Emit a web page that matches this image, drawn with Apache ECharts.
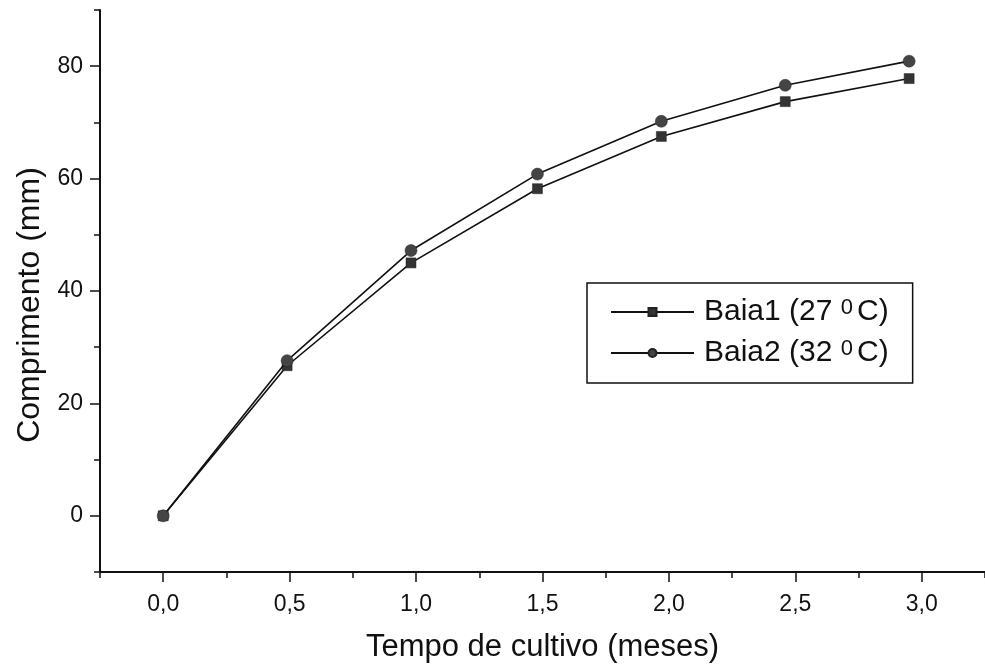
<!DOCTYPE html>
<html>
<head>
<meta charset="utf-8">
<script src="https://cdn.jsdelivr.net/npm/echarts@6/dist/echarts.min.js"></script>
<style>
  html, body { margin: 0; padding: 0; background: #fff; }
  #main { width: 985px; height: 668px; }
</style>
</head>
<body>
<div id="main"></div>
<script>
// ********
// * Data *
// ********

// Sampling times (months), every ~15 days
const months = [0, 0.49, 0.98, 1.48, 1.97, 2.46, 2.95];

// Length (mm) per bay
const baia1 = [0, 26.7, 45.0, 58.2, 67.5, 73.7, 77.8];
const baia2 = [0, 27.6, 47.2, 60.8, 70.2, 76.6, 80.9];

const seriesNames = ["Baia1 (27 0C)", "Baia2 (32 0C)"];

// Tick values
const xLabelValues = [0, 0.5, 1, 1.5, 2, 2.5, 3];
const xMinorValues = [-0.25, 0.25, 0.75, 1.25, 1.75, 2.25, 2.75, 3.25];
const yLabelValues = [0, 20, 40, 60, 80];
const yMinorValues = [-10, 10, 30, 50, 70, 90];

// *************
// * Chart     *
// *************

const chart = echarts.init(document.getElementById("main"));

const font = "Liberation Sans, Arial, sans-serif";
const ink = "#111";

function pairs(xs, ys) {
  return xs.map((x, i) => [x, ys[i]]);
}

// Hidden-line axis that only draws ticks at given values
function tickAxis(base, values, length) {
  return {
    ...base,
    axisLine: { show: false, onZero: false },
    axisTick: { show: true, customValues: values, length: length, lineStyle: { color: ink, width: 1.5 } },
    axisLabel: { show: false },
    splitLine: { show: false },
  };
}

const xBase = { type: "value", min: -0.25, max: 3.25, position: "bottom" };
const yBase = { type: "value", min: -10, max: 90, position: "left" };

const option = {
  animation: false,
  backgroundColor: "#fff",
  grid: { left: 100, right: -5, top: 10, bottom: 95 },
  xAxis: [
    {
      ...xBase,
      name: "Tempo de cultivo (meses)",
      nameLocation: "middle",
      nameGap: 60,
      nameTextStyle: { fontFamily: font, fontSize: 31, color: ink },
      splitLine: { show: false },
      axisLine: { onZero: false, lineStyle: { color: ink, width: 2 } },
      axisTick: { show: false },
      axisLabel: {
        customValues: xLabelValues,
        margin: 21,
        fontFamily: font,
        fontSize: 23,
        color: ink,
        formatter: (v) => v.toFixed(1).replace(".", ","),
      },
    },
    tickAxis(xBase, xLabelValues, 10),
    tickAxis(xBase, xMinorValues, 6),
  ],
  yAxis: [
    {
      ...yBase,
      name: "Comprimento (mm)",
      nameLocation: "middle",
      nameGap: 52,
      nameTextStyle: { fontFamily: font, fontSize: 32, color: ink, padding: [0, 28, 0, 0] },
      splitLine: { show: false },
      axisLine: { onZero: false, lineStyle: { color: ink, width: 2 } },
      axisTick: { show: false },
      axisLabel: {
        customValues: yLabelValues,
        margin: 17,
        fontFamily: font,
        fontSize: 23,
        color: ink,
      },
    },
    tickAxis(yBase, yLabelValues, 10),
    tickAxis(yBase, yMinorValues, 6),
  ],
  legend: {
    left: 587,
    top: 283,
    orient: "vertical",
    itemWidth: 83,
    itemHeight: 10,
    itemGap: 5,
    padding: [14, 24, 9, 23],
    borderColor: ink,
    borderWidth: 1.5,
    formatter: (name) => {
      const parts = name.split(" ");
      return `{t|${parts[0]} ${parts[1]} }{sup|0}{t|C)}`;
    },
    textStyle: {
      padding: [0, 0, 0, 5],
      rich: {
        t: { fontFamily: font, fontSize: 30, color: ink, verticalAlign: "bottom", lineHeight: 30 },
        sup: { fontFamily: font, fontSize: 22, color: ink, verticalAlign: "top", lineHeight: 30, padding: [0, 4, 14, 0] },
      },
    },
    data: seriesNames,
  },
  series: [
    {
      name: seriesNames[0],
      type: "line",
      data: pairs(months, baia1),
      symbol: "rect",
      symbolSize: 10,
      itemStyle: { color: "#333", borderColor: "#222", borderWidth: 0.5 },
      lineStyle: { color: ink, width: 1.6 },
      z: 2,
    },
    {
      name: seriesNames[1],
      type: "line",
      data: pairs(months, baia2),
      symbol: "circle",
      symbolSize: 12,
      itemStyle: { color: "#444", borderColor: "#222", borderWidth: 0.5 },
      lineStyle: { color: ink, width: 1.6 },
      z: 3,
    },
  ],
};

chart.setOption(option);
</script>
</body>
</html>
